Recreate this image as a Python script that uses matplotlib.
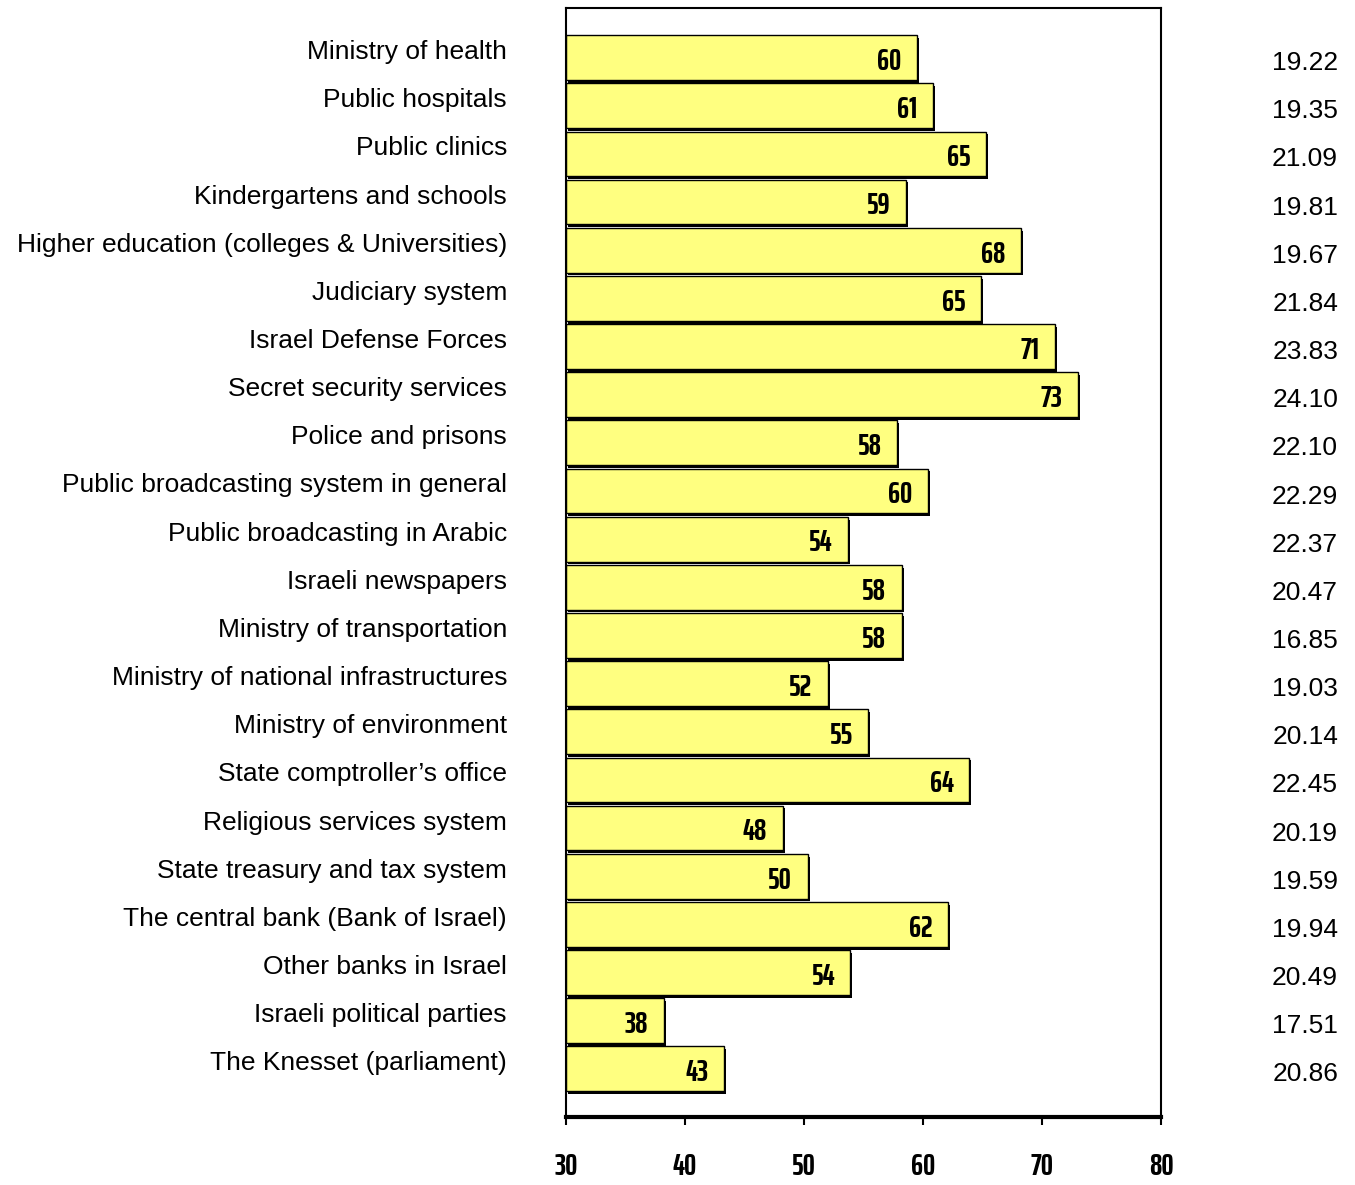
import matplotlib
matplotlib.use("Agg")
import matplotlib.pyplot as plt
import matplotlib.patheffects as pe
from matplotlib.transforms import blended_transform_factory, offset_copy

categories = [
    "Ministry of health", "Public hospitals", "Public clinics",
    "Kindergartens and schools", "Higher education (colleges & Universities)",
    "Judiciary system", "Israel Defense Forces", "Secret security services",
    "Police and prisons", "Public broadcasting system in general",
    "Public broadcasting in Arabic", "Israeli newspapers",
    "Ministry of transportation", "Ministry of national infrastructures",
    "Ministry of environment", "State comptroller\u2019s office",
    "Religious services system", "State treasury and tax system",
    "The central bank (Bank of Israel)", "Other banks in Israel",
    "Israeli political parties", "The Knesset (parliament)",
]
means = [59.5, 60.8, 65.3, 58.6, 68.2, 64.9, 71.1, 73.0, 57.8, 60.4, 53.7,
         58.2, 58.2, 52.0, 55.4, 63.9, 48.2, 50.3, 62.1, 53.9, 38.2, 43.3]
labels = [60, 61, 65, 59, 68, 65, 71, 73, 58, 60, 54,
          58, 58, 52, 55, 64, 48, 50, 62, 54, 38, 43]
std_dev = ["19.22", "19.35", "21.09", "19.81", "19.67", "21.84", "23.83",
           "24.10", "22.10", "22.29", "22.37", "20.47", "16.85", "19.03",
           "20.14", "22.45", "20.19", "19.59", "19.94", "20.49", "17.51",
           "20.86"]
x_ticks = [30, 40, 50, 60, 70, 80]

narrow = ["Saira ExtraCondensed", "DejaVu Sans"]

fig = plt.figure(figsize=(13.55, 11.85), dpi=100)
ax = fig.add_axes([566 / 1355, 1 - 1117 / 1185, 595 / 1355, 1109 / 1185])

y = list(range(len(categories)))
base = 30
bars = ax.barh(y, [m - base for m in means], left=base, height=0.93,
               color="#FFFF80", edgecolor="black", linewidth=1.0)
for b in bars:
    b.set_path_effects([pe.SimplePatchShadow(offset=(1.5, -2), shadow_rgbFace="black", alpha=1.0),
                        pe.Normal()])

for yi, m, lab in zip(y, means, labels):
    ax.text(m - 1.3, yi + 0.08, str(lab), ha="right", va="center",
            family=narrow, fontweight="bold", fontsize=22)

ax.set_xlim(30, 80)
ax.set_ylim(len(categories) - 1 + 1.0, -1.03)
ax.set_xticks(x_ticks)
ax.set_xticklabels([str(t) for t in x_ticks], family=narrow, fontweight="bold", fontsize=22)
ax.tick_params(axis="x", direction="out", length=6, width=1.5, pad=19)
ax.set_yticks([])

for side in ["top", "left", "right"]:
    ax.spines[side].set_linewidth(1.5)
ax.spines["bottom"].set_linewidth(3)

# category labels on the left, slightly above bar centres
trans_l = offset_copy(blended_transform_factory(fig.transFigure, ax.transData),
                      fig=fig, y=4, units="points")
for yi, cat in zip(y, categories):
    fig.text(507 / 1355, yi, cat, transform=trans_l, ha="right", va="center",
             family="Liberation Sans", fontsize=19)

# standard deviation column on the right, slightly below bar centres
trans_r = offset_copy(blended_transform_factory(fig.transFigure, ax.transData),
                      fig=fig, y=-4, units="points")
for yi, sd in zip(y, std_dev):
    fig.text(1338 / 1355, yi, sd, transform=trans_r, ha="right", va="center",
             family="Liberation Sans", fontsize=19)

fig.savefig("out.png", dpi=100)
